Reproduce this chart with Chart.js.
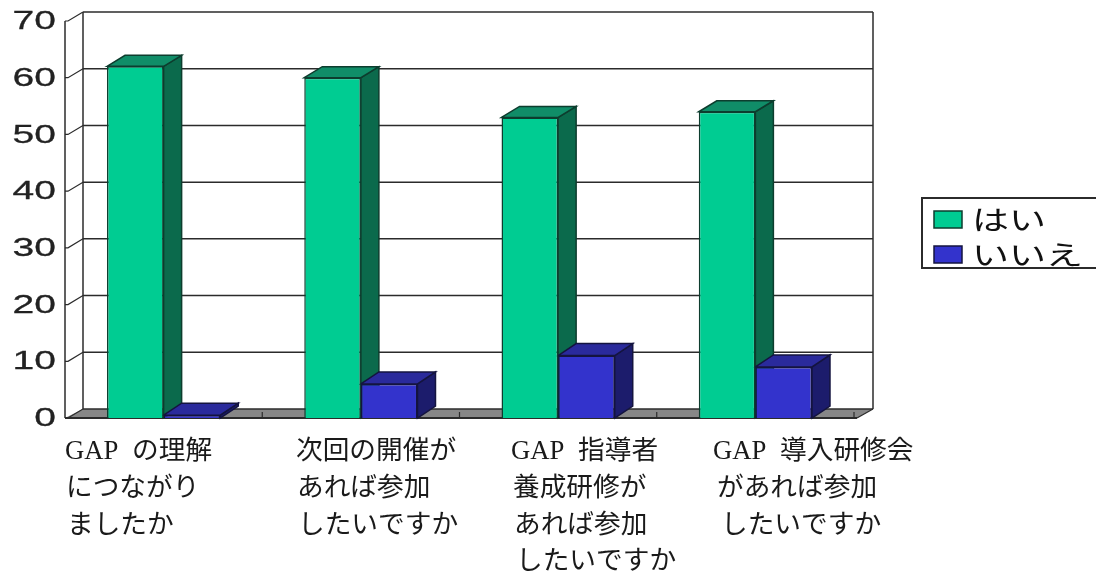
<!DOCTYPE html>
<html lang="ja">
<head>
<meta charset="utf-8">
<title>GAP</title>
<script src="https://cdn.jsdelivr.net/npm/chart.js@4"></script>
<style>
  html, body { margin: 0; padding: 0; background: #fff; }
  canvas { display: block; }
</style>
</head>
<body>
<canvas id="chart" width="1096" height="573"></canvas>
<script>
// values
const categories = ['GAPの理解につながりましたか', '次回の開催があれば参加したいですか', 'GAP指導者養成研修があれば参加したいですか', 'GAP導入研修会があれば参加したいですか'];
const categoryLines = [
  ['GAP の理解', 'につながり', 'ましたか'],
  ['次回の開催が', 'あれば参加', 'したいですか'],
  ['GAP 指導者', '養成研修が', 'あれば参加', 'したいですか'],
  ['GAP 導入研修会', 'があれば参加', 'したいですか']
];
const seriesNames = ['はい', 'いいえ'];
const yesValues = [62, 60, 53, 54];
const noValues = [0.5, 6, 11, 9];

// layout
const lineStarts = [
  [65, 66, 67],
  [296, 297, 298],
  [511, 513, 514, 516],
  [713, 717, 721]
];
const depthX = 18;
const depthY = -9;
const lineColor = '#2b2b2b';
const colors = [
  { front: '#00cc92', side: '#0b6a4c', top: '#108d68', edge: '#0d3d2e' },
  { front: '#3333cc', side: '#1c1c6c', top: '#2a2a9c', edge: '#14143f' }
];

function poly(ctx, pts, fill, stroke) {
  ctx.beginPath();
  pts.forEach((p, i) => i ? ctx.lineTo(p[0], p[1]) : ctx.moveTo(p[0], p[1]));
  ctx.closePath();
  if (fill) { ctx.fillStyle = fill; ctx.fill(); }
  if (stroke) { ctx.strokeStyle = stroke; ctx.lineWidth = 1.5; ctx.stroke(); }
}

function segment(ctx, x1, y1, x2, y2, width) {
  ctx.beginPath();
  ctx.moveTo(x1, y1);
  ctx.lineTo(x2, y2);
  ctx.strokeStyle = lineColor;
  ctx.lineWidth = width;
  ctx.stroke();
}

const wallPlugin = {
  id: 'wall',
  beforeDatasetsDraw(chart) {
    const ctx = chart.ctx;
    const { left, right, top, bottom } = chart.chartArea;
    const yScale = chart.scales.y;
    const frontRight = right + 3;
    const backRight = right + 19;
    ctx.save();

    // floor
    poly(ctx, [[left, bottom], [left + depthX, bottom + depthY], [backRight, bottom + depthY], [frontRight, bottom]], '#878787', null);

    // gridlines on the back wall with the hook back to the axis
    yScale.ticks.forEach(t => {
      const y = yScale.getPixelForValue(t.value);
      segment(ctx, left + depthX, y + depthY, backRight, y + depthY, 1.5);
      ctx.beginPath();
      ctx.moveTo(left, y);
      ctx.lineTo(left + 3, y);
      ctx.lineTo(left + depthX, y + depthY);
      ctx.strokeStyle = lineColor;
      ctx.lineWidth = 1.2;
      ctx.stroke();
    });

    segment(ctx, left, top, left, bottom, 1.5);
    segment(ctx, left + depthX, top + depthY, left + depthX, bottom + depthY, 1.5);
    segment(ctx, backRight, top + depthY, backRight, bottom + depthY, 1.5);
    segment(ctx, left, bottom, frontRight, bottom, 2);
    segment(ctx, frontRight, bottom, backRight, bottom + depthY, 1.2);

    // category ticks on the floor
    const step = (right - left) / categories.length;
    for (let i = 1; i <= categories.length; i++) {
      const x = left + step * i;
      segment(ctx, x, bottom, x, bottom - 6, 1.2);
    }

    // side and top faces of the bars, the library draws the fronts after this
    chart.data.datasets.forEach((ds, d) => {
      const c = colors[d];
      const dy = d === 0 ? -11 : -12;
      chart.getDatasetMeta(d).data.forEach(bar => {
        const p = bar.getProps(['x', 'y', 'base', 'width'], true);
        const l = p.x - p.width / 2;
        const r = p.x + p.width / 2;
        poly(ctx, [[r, p.y], [r + depthX, p.y + dy], [r + depthX, p.base + dy], [r, p.base]], c.side, c.edge);
        poly(ctx, [[l, p.y], [l + depthX, p.y + dy], [r + depthX, p.y + dy], [r, p.y]], c.top, c.edge);
      });
    });
    ctx.restore();
  },
  afterDraw(chart) {
    const ctx = chart.ctx;
    const yScale = chart.scales.y;
    ctx.save();

    // stretched y tick labels
    ctx.fillStyle = '#222';
    ctx.textBaseline = 'middle';
    ctx.textAlign = 'right';
    ctx.font = '26px "Liberation Sans", Arial, sans-serif';
    yScale.ticks.forEach(t => {
      ctx.save();
      ctx.translate(56, yScale.getPixelForValue(t.value) + 1);
      ctx.scale(1.5, 1);
      ctx.fillText(t.label, 0, 0);
      ctx.strokeStyle = '#222';
      ctx.lineWidth = 0.3;
      ctx.strokeText(t.label, 0, 0);
      ctx.restore();
    });

    // category captions
    ctx.fillStyle = '#1a1a1a';
    ctx.textAlign = 'left';
    ctx.font = '26.7px "Liberation Serif", "Noto Sans CJK JP", serif';
    ctx.wordSpacing = '7px';
    categoryLines.forEach((lines, c) => {
      lines.forEach((text, i) => {
        ctx.fillText(text, lineStarts[c][i], 452 + i * 36.8);
      });
    });
    ctx.wordSpacing = '0px';

    // legend box
    ctx.fillStyle = '#fff';
    ctx.fillRect(922, 198, 174, 70);
    ctx.strokeStyle = lineColor;
    ctx.lineWidth = 2;
    ctx.strokeRect(922, 198, 180, 70);
    ctx.font = '27px "Noto Sans CJK JP", sans-serif';
    chart.data.datasets.forEach((ds, d) => {
      const top = 211 + d * 35;
      ctx.fillStyle = colors[d].front;
      ctx.fillRect(934, top, 28, 17);
      ctx.strokeStyle = colors[d].edge;
      ctx.lineWidth = 1.5;
      ctx.strokeRect(934, top, 28, 17);
      ctx.save();
      ctx.translate(972, top + 9);
      ctx.scale(1.37, 1);
      ctx.fillStyle = '#111';
      ctx.fillText(ds.label, 0, 0);
      ctx.restore();
    });
    ctx.restore();
  }
};

new Chart(document.getElementById('chart'), {
  type: 'bar',
  data: {
    labels: categories,
    datasets: [
      { label: seriesNames[0], data: yesValues, backgroundColor: colors[0].front, borderColor: colors[0].edge, borderWidth: 1.5 },
      { label: seriesNames[1], data: noValues, backgroundColor: colors[1].front, borderColor: colors[1].edge, borderWidth: 1.5 }
    ]
  },
  options: {
    responsive: false,
    animation: false,
    devicePixelRatio: 1,
    layout: { padding: { left: 65, right: 242, top: 21, bottom: 155 } },
    datasets: { bar: { categoryPercentage: 0.574, barPercentage: 1 } },
    plugins: { legend: { display: false }, tooltip: { enabled: false } },
    scales: {
      x: { ticks: { display: false }, grid: { display: false, drawTicks: false }, border: { display: false } },
      y: {
        min: 0,
        max: 70,
        ticks: { display: false, stepSize: 10 },
        grid: { display: false, drawTicks: false },
        border: { display: false }
      }
    }
  },
  plugins: [wallPlugin]
});
</script>
</body>
</html>
